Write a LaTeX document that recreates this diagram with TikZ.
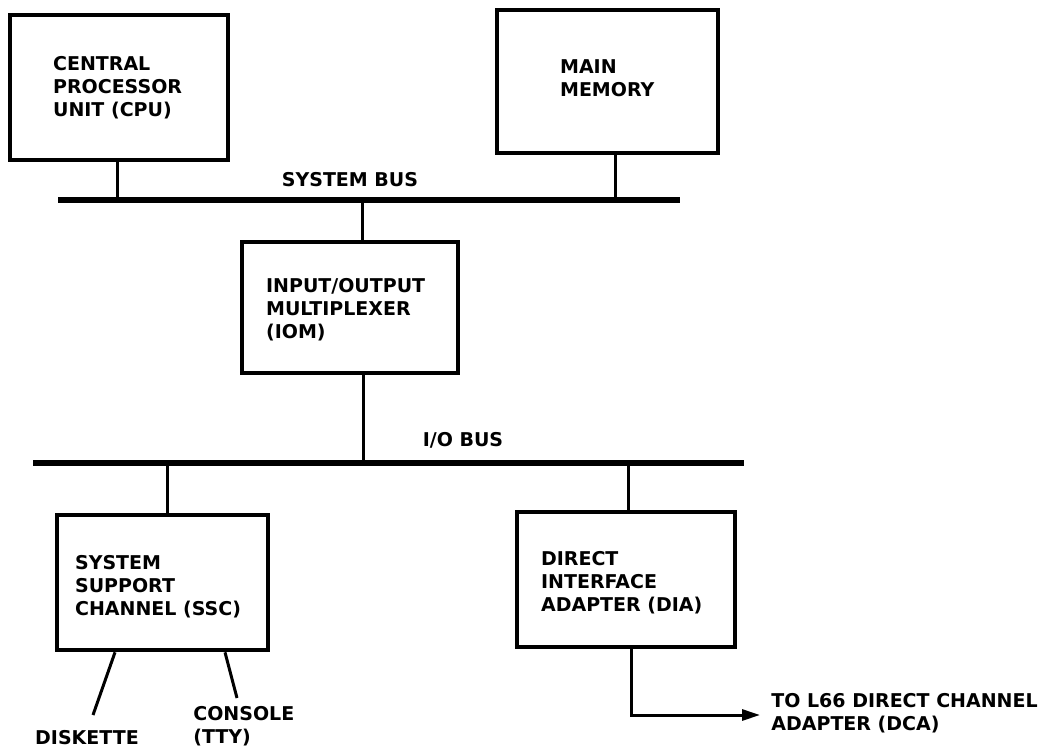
\documentclass[tikz,border=0pt]{standalone}
\usepackage{fontspec}
\setmainfont{DejaVu Sans}
\usetikzlibrary{arrows.meta,positioning}
\tikzset{
  unitbox/.style={draw,line width=2.3pt,inner sep=0pt},
  bus/.style={line width=3.4pt},
  tap/.style={line width=1.5pt},
  feed/.style={-{Triangle[length=9pt,width=5.5pt]},line width=1.5pt},
  boxtext/.style={font=\bfseries\fontsize{9.5}{11.5}\selectfont,align=left,inner sep=0pt,anchor=west}
}

\begin{document}
\begin{tikzpicture}[x=.5pt,y=-.5pt]
\useasboundingbox (0,0) rectangle (1049,750);
\node[unitbox,minimum width=109pt,minimum height=72.5pt] (cpu) at (119,87.5) {};
\node[unitbox,minimum width=110.5pt,minimum height=71.5pt] (mem) at (607.5,81.5) {};
\node[unitbox,minimum width=108pt,minimum height=65.5pt] (iom) at (350,307.5) {};
\node[unitbox,minimum width=105.5pt,minimum height=67.5pt] (ssc) at (162.5,582.5) {};
\node[unitbox,minimum width=109pt,minimum height=67.5pt] (dia) at (626,579.5) {};
\node[boxtext,right=22.5pt of cpu.west] (cputext) {CENTRAL\\PROCESSOR\\UNIT (CPU)};
\node[boxtext,right=32.5pt of mem.west,yshift=1.75pt] (memtext) {MAIN\\MEMORY};
\node[boxtext,right=13pt of iom.west,yshift=-1.25pt] (iomtext) {INPUT/OUTPUT\\MULTIPLEXER\\(IOM)};
\node[boxtext,right=10pt of ssc.west,yshift=-2.25pt] (ssctext) {SYSTEM\\SUPPORT\\CHANNEL (SSC)};
\node[boxtext,right=13pt of dia.west,yshift=-1.75pt] (diatext) {DIRECT\\INTERFACE\\ADAPTER (DIA)};
\coordinate (sysleft) at (58,200);
\coordinate (sysright) at (680,200);
\coordinate (ioleft) at (33,463);
\coordinate (ioright) at (744,463);
\draw[bus] (sysleft) -- (sysright);
\draw[bus] (ioleft) -- (ioright);
\node[boxtext,anchor=center] (sysbus) at (350,180) {SYSTEM BUS};
\node[boxtext,anchor=center] (iobus) at (463,440) {I/O BUS};
\draw[tap] ([xshift=-1pt]cpu.south) -- ([xshift=-1pt]cpu.south |- sysleft);
\draw[tap] ([xshift=3.75pt]mem.south) -- ([xshift=3.75pt]mem.south |- sysleft);
\draw[tap] ([xshift=6pt]iom.north) -- ([xshift=6pt]iom.north |- sysleft);
\draw[tap] ([xshift=6.5pt]iom.south) -- ([xshift=6.5pt]iom.south |- ioleft);
\draw[tap] ([xshift=2.25pt]ssc.north) -- ([xshift=2.25pt]ssc.north |- ioleft);
\draw[tap] ([xshift=1pt]dia.north) -- ([xshift=1pt]dia.north |- ioleft);
\coordinate (diskend) at (93,715);
\coordinate (consend) at (237,698);
\draw[tap] ([xshift=-23.75pt]ssc.south) -- (diskend);
\draw[tap] ([xshift=31.25pt]ssc.south) -- (consend);
\node[boxtext,anchor=center] (disk) at (87,738) {DISKETTE};
\node[boxtext] (console) at (193,726) {CONSOLE\\(TTY)};
\coordinate (dcaend) at (760,715);
\draw[feed] ([xshift=2.5pt]dia.south) |- (dcaend);
\node[boxtext] (dca) at (771,713) {TO L66 DIRECT CHANNEL\\ADAPTER (DCA)};
\end{tikzpicture}
\end{document}
